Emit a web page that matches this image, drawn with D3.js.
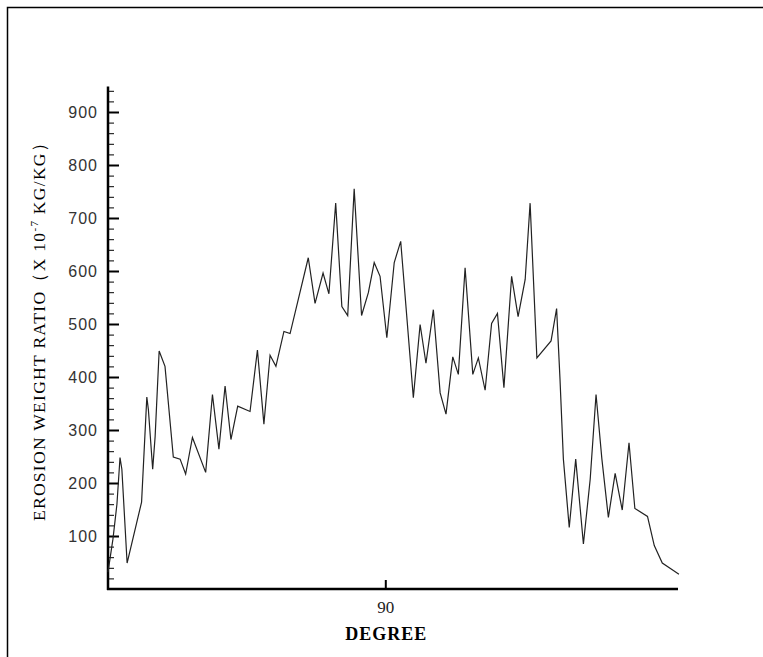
<!DOCTYPE html>
<html>
<head>
<meta charset="utf-8">
<script src="https://cdn.jsdelivr.net/npm/d3@7"></script>
<style>
  html, body { margin: 0; padding: 0; background: #fff; }
  svg { display: block; }
</style>
</head>
<body>
<div id="chart"></div>
<script>
// Data (degree vs erosion weight ratio, x 1e-7 kg/kg)
const degree = [0, 1.6, 2.9, 3.9, 4.5, 6.2, 10.9, 12.6, 13.1, 14.5, 15.3, 16.6, 18.5, 21.2, 23.4, 25.2,
  27.4, 31.7, 33.9, 36.0, 38.0, 39.9, 42.1, 46.1, 48.5, 50.6, 52.6, 54.5, 57.1, 59.1, 65.0, 67.2, 69.8,
  71.7, 73.9, 75.9, 77.8, 79.9, 82.3, 84.5, 86.4, 88.3, 90.5, 92.9, 95.0, 99.1, 101.3, 103.2, 105.6,
  107.8, 109.7, 111.9, 113.7, 115.9, 118.4, 120.2, 122.4, 124.5, 126.4, 128.5, 131.0, 133.1, 135.4,
  137.0, 139.2, 143.8, 145.6, 146.7, 147.8, 149.7, 151.8, 154.3, 156.5, 158.4, 160.3, 162.4, 164.6,
  166.9, 169.1, 171.0, 175.1, 177.3, 179.9, 183.5, 185.3];
const erosion = [32, 94, 160, 248, 226, 49, 164, 362, 339, 226, 288, 449, 420, 249, 245, 217,
  286, 220, 367, 264, 383, 282, 345, 335, 451, 311, 441, 420, 486, 482, 625, 539, 596,
  557, 728, 533, 516, 755, 516, 559, 616, 590, 474, 616, 656, 361, 499, 426, 527,
  370, 330, 438, 405, 606, 405, 436, 375, 501, 520, 380, 590, 514, 584,
  728, 436, 468, 529, 396, 245, 116, 245, 85, 207, 367, 245, 135, 218,
  149, 276, 152, 137, 82, 49, 35, 28];

const yMajorTicks = [100, 200, 300, 400, 500, 600, 700, 800, 900];
const yMinorTicks = d3.range(20, 960, 20).filter(v => v % 100 !== 0);
const xTicks = [90];

const width = 763;
const height = 657;
const margins = { top: 85.5, right: 85, bottom: 68, left: 108 };

const svg = d3.select('#chart').append('svg')
  .attr('width', width)
  .attr('height', height);

// outer frame (only left + top edges show in the picture)
svg.append('path')
  .attr('d', `M7.5,${height} V7.5 H${width}`)
  .attr('fill', 'none')
  .attr('stroke', '#000')
  .attr('stroke-width', 1.5);

const xScale = d3.scaleLinear()
  .domain([0, 185])
  .range([margins.left, width - margins.right]);

const yScale = d3.scaleLinear()
  .domain([0, 950])
  .range([height - margins.bottom, margins.top]);

// y axis: labels on the left, tick marks pointing inward
const yLabels = d3.axisLeft(yScale).tickValues(yMajorTicks).tickSize(0).tickPadding(10);
svg.append('g')
  .attr('transform', `translate(${margins.left},0)`)
  .call(yLabels)
  .call(g => g.select('.domain').remove())
  .call(g => g.selectAll('text')
    .attr('font-family', '"Liberation Sans", Arial, sans-serif')
    .attr('font-size', 16)
    .attr('letter-spacing', 1)
    .attr('fill', '#333'));

svg.append('g')
  .attr('transform', `translate(${margins.left},0)`)
  .call(d3.axisRight(yScale).tickValues(yMinorTicks).tickSize(6).tickFormat(''))
  .call(g => g.select('.domain').remove())
  .call(g => g.selectAll('line').attr('stroke', '#000').attr('stroke-width', 1));

svg.append('g')
  .attr('transform', `translate(${margins.left},0)`)
  .call(d3.axisRight(yScale).tickValues(yMajorTicks).tickSize(11).tickFormat(''))
  .call(g => g.select('.domain').remove())
  .call(g => g.selectAll('line').attr('stroke', '#000').attr('stroke-width', 2));

// x axis: single tick at 90
svg.append('g')
  .attr('transform', `translate(0,${yScale(0)})`)
  .call(d3.axisTop(xScale).tickValues(xTicks).tickSize(9).tickFormat(''))
  .call(g => g.select('.domain').remove())
  .call(g => g.selectAll('line').attr('stroke', '#000').attr('stroke-width', 2));

svg.append('g')
  .attr('transform', `translate(0,${yScale(0)})`)
  .call(d3.axisBottom(xScale).tickValues(xTicks).tickSize(0).tickPadding(12))
  .call(g => g.select('.domain').remove())
  .call(g => g.selectAll('text')
    .attr('font-family', '"Liberation Serif", "Times New Roman", serif')
    .attr('font-size', 17)
    .attr('fill', '#222'));

// axis lines drawn last so they sit on top
svg.append('line')
  .attr('x1', margins.left).attr('x2', margins.left)
  .attr('y1', margins.top + 1).attr('y2', yScale(0) + 1)
  .attr('stroke', '#000').attr('stroke-width', 2.5);

svg.append('line')
  .attr('x1', margins.left - 1).attr('x2', width - margins.right)
  .attr('y1', yScale(0)).attr('y2', yScale(0))
  .attr('stroke', '#000').attr('stroke-width', 2.5);

// the data line
const line = d3.line()
  .x((d, i) => xScale(degree[i]))
  .y(d => yScale(d));

svg.append('path')
  .datum(erosion)
  .attr('fill', 'none')
  .attr('stroke', '#222')
  .attr('stroke-width', 1.2)
  .attr('stroke-linejoin', 'miter')
  .attr('d', line);

// axis titles
svg.append('text')
  .attr('x', xScale(90) + 1)
  .attr('y', 640)
  .attr('text-anchor', 'middle')
  .attr('font-family', '"Liberation Serif", "Times New Roman", serif')
  .attr('font-weight', 'bold')
  .attr('font-size', 18)
  .attr('letter-spacing', 1)
  .attr('fill', '#000')
  .text('DEGREE');

const yTitle = svg.append('text')
  .attr('transform', `translate(45,${327}) rotate(-90)`)
  .attr('text-anchor', 'middle')
  .attr('font-family', '"Liberation Serif", "Times New Roman", serif')
  .attr('font-size', 17.5)
  .attr('letter-spacing', 1.3)
  .attr('fill', '#000');
yTitle.append('tspan').text('EROSION WEIGHT RATIO（X 10');
yTitle.append('tspan').attr('dy', -7).attr('font-size', 11).text('-7');
yTitle.append('tspan').attr('dy', 7).text(' KG/KG）');
</script>
</body>
</html>
